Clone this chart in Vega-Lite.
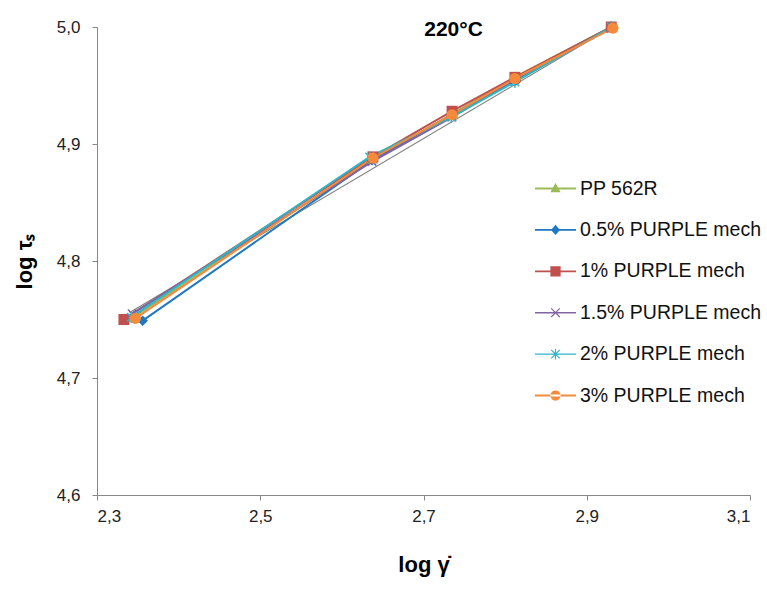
{
  "$schema": "https://vega.github.io/schema/vega-lite/v6.json",
  "width": 653,
  "height": 468,
  "autosize": {"type": "none"},
  "padding": {"left": 97, "top": 27, "right": 17, "bottom": 96},
  "background": "white",
  "title": {"text": "220°C", "font": "Liberation Sans", "fontSize": 21, "fontWeight": "bold", "color": "#000000", "frame": "group", "anchor": "middle", "dx": 30, "offset": -22},
  "config": {
    "view": {"stroke": null},
    "font": "Liberation Sans",
    "axis": {"grid": false, "domainColor": "#888888", "tickColor": "#888888", "labelFont": "Liberation Sans", "labelFontSize": 17, "labelColor": "#222222", "titleFont": "Liberation Sans", "titleFontSize": 22, "titleFontWeight": "bold", "titleColor": "#000000"}
  },
  "datasets": {
    "series": [
      {"series": "PP 562R", "x": 2.345, "y": 4.752},
      {"series": "PP 562R", "x": 2.638, "y": 4.887},
      {"series": "PP 562R", "x": 2.736, "y": 4.926},
      {"series": "PP 562R", "x": 2.814, "y": 4.958},
      {"series": "PP 562R", "x": 2.93, "y": 5.0},
      {"series": "0.5% PURPLE mech", "x": 2.356, "y": 4.749},
      {"series": "0.5% PURPLE mech", "x": 2.637, "y": 4.886},
      {"series": "0.5% PURPLE mech", "x": 2.735, "y": 4.925},
      {"series": "0.5% PURPLE mech", "x": 2.813, "y": 4.954},
      {"series": "0.5% PURPLE mech", "x": 2.93, "y": 5.0},
      {"series": "1% PURPLE mech", "x": 2.333, "y": 4.75},
      {"series": "1% PURPLE mech", "x": 2.638, "y": 4.889},
      {"series": "1% PURPLE mech", "x": 2.735, "y": 4.928},
      {"series": "1% PURPLE mech", "x": 2.812, "y": 4.957},
      {"series": "1% PURPLE mech", "x": 2.93, "y": 5.0},
      {"series": "1.5% PURPLE mech", "x": 2.343, "y": 4.755},
      {"series": "1.5% PURPLE mech", "x": 2.637, "y": 4.885},
      {"series": "1.5% PURPLE mech", "x": 2.735, "y": 4.923},
      {"series": "1.5% PURPLE mech", "x": 2.812, "y": 4.955},
      {"series": "1.5% PURPLE mech", "x": 2.93, "y": 4.999},
      {"series": "2% PURPLE mech", "x": 2.342, "y": 4.752},
      {"series": "2% PURPLE mech", "x": 2.634, "y": 4.889},
      {"series": "2% PURPLE mech", "x": 2.734, "y": 4.923},
      {"series": "2% PURPLE mech", "x": 2.812, "y": 4.953},
      {"series": "2% PURPLE mech", "x": 2.93, "y": 5.0},
      {"series": "3% PURPLE mech", "x": 2.347, "y": 4.751},
      {"series": "3% PURPLE mech", "x": 2.638, "y": 4.888},
      {"series": "3% PURPLE mech", "x": 2.735, "y": 4.925},
      {"series": "3% PURPLE mech", "x": 2.812, "y": 4.956},
      {"series": "3% PURPLE mech", "x": 2.932, "y": 4.999}
    ],
    "trend": [
      {"x": 2.34, "y": 4.756},
      {"x": 2.931, "y": 5.0}
    ]
  },
  "layer": [
    {
      "data": {"name": "trend"},
      "mark": {"type": "line", "color": "#7f7f7f", "strokeWidth": 1.2},
      "encoding": {
        "x": {"field": "x", "type": "quantitative", "scale": {"domain": [2.3, 3.1], "nice": false, "zero": false}, "axis": {"values": [2.3, 2.5, 2.7, 2.9, 3.1], "labelExpr": "replace(format(datum.value, '.1f'), '.', ',')", "title": "log γ̇", "tickSize": 5, "labelPadding": 8, "titlePadding": 30}},
        "y": {"field": "y", "type": "quantitative", "scale": {"domain": [4.6, 5.0], "nice": false, "zero": false}, "axis": {"values": [4.6, 4.7, 4.8, 4.9, 5.0], "labelExpr": "replace(format(datum.value, '.1f'), '.', ',')", "title": "log τₛ", "tickSize": 5, "labelPadding": 12, "titlePadding": 20}}
      }
    },
    {
      "data": {"name": "series"},
      "mark": {"type": "line", "strokeWidth": 2},
      "encoding": {
        "x": {"field": "x", "type": "quantitative"},
        "y": {"field": "y", "type": "quantitative"},
        "color": {"field": "series", "type": "nominal", "sort": null, "scale": {"domain": ["PP 562R", "0.5% PURPLE mech", "1% PURPLE mech", "1.5% PURPLE mech", "2% PURPLE mech", "3% PURPLE mech"], "range": ["#9BBB59", "#1F78C1", "#C0504D", "#8064A2", "#2CB5C8", "#F58A3B"]}, "legend": {
          "title": null, "orient": "none", "legendX": 438, "legendY": 141, "symbolSize": 1681, "symbolStrokeWidth": 0, "labelFont": "Liberation Sans", "labelFontSize": 19.5, "labelColor": "#111111", "labelLimit": 0, "rowPadding": 11.4, "labelOffset": 4,
          "encode": {"symbols": {"update": {"strokeWidth": {"value": 0}, "stroke": {"value": "transparent"}, "fill": {"scale": "color", "field": "value"}, "shape": {"signal": "datum.value === 'PP 562R' ? 'M-1,-0.045H1V0.045H-1ZM0,-0.27L0.25,0.18L-0.25,0.18Z' : datum.value === '0.5% PURPLE mech' ? 'M-1,-0.045H1V0.045H-1ZM0,-0.25L0.22,0L0,0.25L-0.22,0Z' : datum.value === '1% PURPLE mech' ? 'M-1,-0.045H1V0.045H-1ZM-0.25,-0.25H0.25V0.25H-0.25Z' : datum.value === '1.5% PURPLE mech' ? 'M-1,-0.035H1V0.035H-1ZM-0.23,-0.19L-0.19,-0.23L0.23,0.19L0.19,0.23ZM0.19,-0.23L0.23,-0.19L-0.19,0.23L-0.23,0.19Z' : datum.value === '2% PURPLE mech' ? 'M-1,-0.035H1V0.035H-1ZM-0.23,-0.19L-0.19,-0.23L0.23,0.19L0.19,0.23ZM0.19,-0.23L0.23,-0.19L-0.19,0.23L-0.23,0.19ZM-0.028,-0.26H0.028V0.26H-0.028Z' : 'M-1,-0.045H1V0.045H-1ZM-0.25,0A0.25,0.25 0 1,0 0.25,0A0.25,0.25 0 1,0 -0.25,0Z'"}}}}
        }}
      }
    },
    {
      "data": {"name": "series"},
      "transform": [{"filter": "datum.series === 'PP 562R'"}],
      "mark": {"type": "point", "filled": true, "opacity": 1, "size": 110, "shape": "triangle-up"},
      "encoding": {
        "x": {"field": "x", "type": "quantitative"},
        "y": {"field": "y", "type": "quantitative"},
        "color": {"field": "series", "type": "nominal", "sort": null}
      }
    },
    {
      "data": {"name": "series"},
      "transform": [{"filter": "datum.series === '0.5% PURPLE mech'"}],
      "mark": {"type": "point", "filled": true, "opacity": 1, "size": 110, "shape": "diamond"},
      "encoding": {
        "x": {"field": "x", "type": "quantitative"},
        "y": {"field": "y", "type": "quantitative"},
        "color": {"field": "series", "type": "nominal", "sort": null}
      }
    },
    {
      "data": {"name": "series"},
      "transform": [{"filter": "datum.series === '1% PURPLE mech'"}],
      "mark": {"type": "point", "filled": true, "opacity": 1, "size": 120, "shape": "square"},
      "encoding": {
        "x": {"field": "x", "type": "quantitative"},
        "y": {"field": "y", "type": "quantitative"},
        "color": {"field": "series", "type": "nominal", "sort": null}
      }
    },
    {
      "data": {"name": "series"},
      "transform": [{"filter": "datum.series === '1.5% PURPLE mech'"}],
      "mark": {"type": "point", "filled": false, "opacity": 1, "size": 110, "strokeWidth": 1.5, "shape": "M-0.8,-0.8L0.8,0.8M-0.8,0.8L0.8,-0.8"},
      "encoding": {
        "x": {"field": "x", "type": "quantitative"},
        "y": {"field": "y", "type": "quantitative"},
        "color": {"field": "series", "type": "nominal", "sort": null}
      }
    },
    {
      "data": {"name": "series"},
      "transform": [{"filter": "datum.series === '2% PURPLE mech'"}],
      "mark": {"type": "point", "filled": false, "opacity": 1, "size": 110, "strokeWidth": 1.5, "shape": "M-0.8,-0.8L0.8,0.8M-0.8,0.8L0.8,-0.8M0,-1.1V1.1"},
      "encoding": {
        "x": {"field": "x", "type": "quantitative"},
        "y": {"field": "y", "type": "quantitative"},
        "color": {"field": "series", "type": "nominal", "sort": null}
      }
    },
    {
      "data": {"name": "series"},
      "transform": [{"filter": "datum.series === '3% PURPLE mech'"}],
      "mark": {"type": "point", "filled": true, "opacity": 1, "size": 125, "shape": "circle"},
      "encoding": {
        "x": {"field": "x", "type": "quantitative"},
        "y": {"field": "y", "type": "quantitative"},
        "color": {"field": "series", "type": "nominal", "sort": null}
      }
    }
  ]
}
